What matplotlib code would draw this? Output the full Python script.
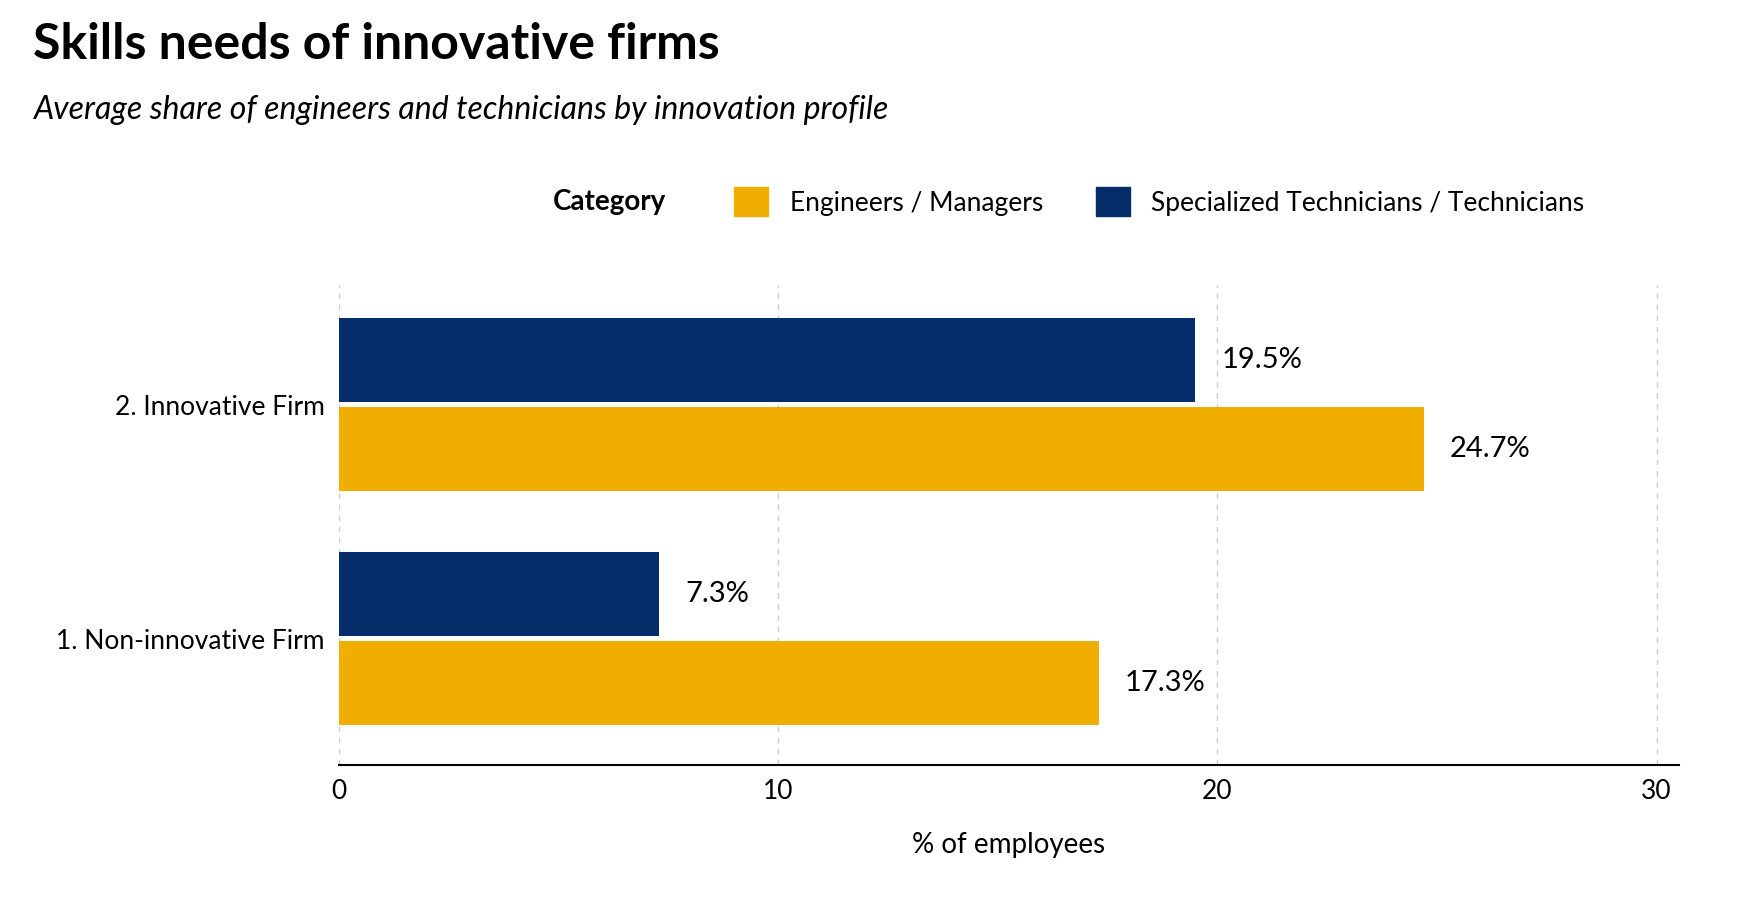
import matplotlib
matplotlib.use("Agg")
import matplotlib.pyplot as plt
from matplotlib.patches import Patch

plt.rcParams['font.family'] = ['Lato', 'DejaVu Sans']

categories = ["1. Non-innovative Firm", "2. Innovative Firm"]
engineers = [17.3, 24.7]
technicians = [7.3, 19.5]
series_names = ["Engineers / Managers", "Specialized Technicians / Technicians"]
xticks = [0, 10, 20, 30]

gold = "#EFAE00"
navy = "#052D69"

fig = plt.figure(figsize=(17.54, 8.97), dpi=100)
ax = fig.add_axes([0.193, 0.147, 0.764, 0.535])

h = 0.36
y = list(range(len(categories)))
ax.barh([v - h/2 - 0.01 for v in y], engineers, height=h, color=gold)
ax.barh([v + h/2 + 0.01 for v in y], technicians, height=h, color=navy)
for i in y:
    ax.text(engineers[i] + 0.6, i - h/2 - 0.01, f"{engineers[i]}%", va="center", fontsize=21)
    ax.text(technicians[i] + 0.6, i + h/2 + 0.01, f"{technicians[i]}%", va="center", fontsize=21)

ax.set_xlim(0, 30.5)
ax.set_ylim(-0.54, 1.51)
ax.set_xticks(xticks)
ax.set_xticklabels([str(t) for t in xticks], fontsize=19)
ax.set_yticks(y)
ax.set_yticklabels(categories, fontsize=19)
ax.tick_params(length=0, pad=10)
ax.xaxis.grid(True, linestyle=(0, (4, 4)), color="#cccccc", linewidth=1)
ax.set_axisbelow(True)
for s in ["top", "right", "left"]:
    ax.spines[s].set_visible(False)
ax.spines["bottom"].set_linewidth(1.5)
ax.set_xlabel("% of employees", fontsize=20, labelpad=20)

fig.text(0.019, 0.95, "Skills needs of innovative firms", fontsize=36, fontweight="bold", va="center")
fig.text(0.019, 0.877, "Average share of engineers and technicians by innovation profile",
         fontsize=23, style="italic", va="center")
fig.text(0.315, 0.775, "Category", fontsize=20, fontweight="bold", va="center")
handles = [Patch(color=gold), Patch(color=navy)]
fig.legend(handles, series_names, loc="center left", bbox_to_anchor=(0.405, 0.775), ncol=2,
           frameon=False, fontsize=19, handlelength=1.3, handleheight=1.3, columnspacing=2.0)

fig.savefig("out.png", dpi=100)
